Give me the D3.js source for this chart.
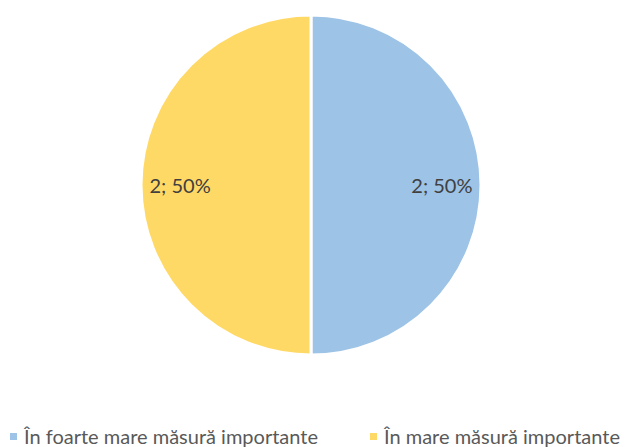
<!DOCTYPE html>
<html>
<head>
<meta charset="utf-8">
<script src="https://cdn.jsdelivr.net/npm/d3@7"></script>
<style>
  body { margin: 0; background: #fff; }
  svg { display: block; font-family: Lato, "Liberation Sans", Arial, sans-serif; }
</style>
</head>
<body>
<div id="chart"></div>
<script>
const categories = ['În foarte mare măsură importante', 'În mare măsură importante'];
const values = [2, 2];
const colors = ['#9DC3E6', '#FFD966'];

const width = 626, height = 447;
const cx = 311, cy = 185, radius = 170;

const svg = d3.select('#chart').append('svg')
  .attr('width', width)
  .attr('height', height);

const total = d3.sum(values);
const pie = d3.pie().sort(null).value(d => d.value);
const data = pie(categories.map((c, i) => ({ name: c, value: values[i], color: colors[i] })));

const arc = d3.arc().innerRadius(0).outerRadius(radius);
const labelArc = d3.arc().innerRadius(radius * 0.77).outerRadius(radius * 0.77);

const g = svg.append('g').attr('transform', `translate(${cx},${cy})`);

g.selectAll('path.slice')
  .data(data)
  .join('path')
  .attr('class', 'slice')
  .attr('d', arc)
  .attr('fill', d => d.data.color)
  .attr('stroke', '#fff')
  .attr('stroke-width', 3);

g.selectAll('text.label')
  .data(data)
  .join('text')
  .attr('class', 'label')
  .attr('transform', d => `translate(${labelArc.centroid(d)})`)
  .attr('text-anchor', 'middle')
  .attr('dy', '0.38em')
  .style('font-size', '20px')
  .style('fill', '#404040')
  .text(d => `${d.data.value}; ${Math.round(d.data.value / total * 100)}%`);

// legend
const legendX = [10, 370];
const legend = svg.append('g').attr('transform', 'translate(0,436)');
const items = legend.selectAll('g.item')
  .data(data)
  .join('g')
  .attr('class', 'item')
  .attr('transform', (d, i) => `translate(${legendX[i]},0)`);

items.append('rect')
  .attr('x', 0).attr('y', -3)
  .attr('width', 7).attr('height', 7)
  .attr('fill', d => d.data.color);

items.append('text')
  .attr('x', 14)
  .attr('dy', '0.38em')
  .style('font-size', '20px')
  .style('fill', '#595959')
  .text(d => d.data.name);
</script>
</body>
</html>
